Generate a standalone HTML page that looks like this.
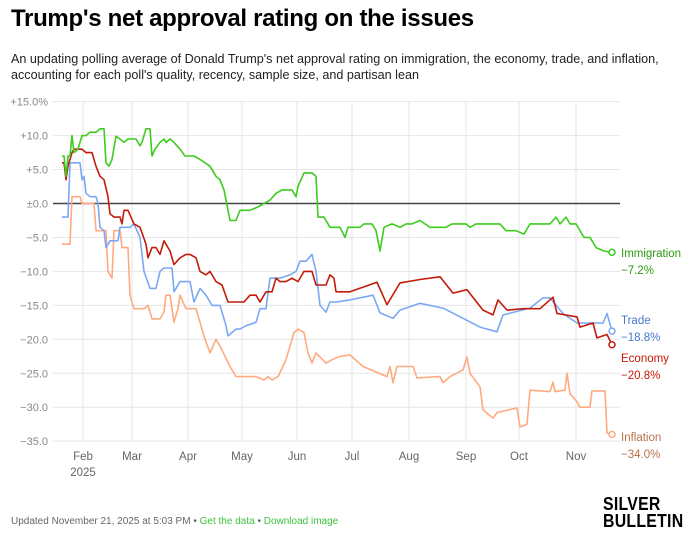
<!DOCTYPE html>
<html><head><meta charset="utf-8"><style>
body{margin:0;width:690px;height:539px;background:#fff;font-family:"Liberation Sans",sans-serif;position:relative;overflow:hidden}
.t{position:absolute;left:11px;top:5px;font-size:24px;font-weight:bold;color:#000;letter-spacing:-0.3px}
.s{position:absolute;left:11px;top:51px;font-size:12.6px;line-height:16px;color:#222;width:680px}
.f{position:absolute;left:11px;top:516px;font-size:10px;color:#666}
.f span{color:#3cc43c}
.logo{position:absolute;left:603px;top:496px;font-size:18px;font-weight:900;line-height:17px;color:#000;letter-spacing:0.3px;transform:scaleX(0.88);transform-origin:left}
</style></head><body>
<div class="t">Trump's net approval rating on the issues</div>
<div class="s">An updating polling average of Donald Trump's net approval rating on immigration, the economy, trade, and inflation, accounting for each poll's quality, recency, sample size, and partisan lean</div>
<svg id="c" width="690" height="539" style="position:absolute;left:0;top:0" font-family="Liberation Sans, sans-serif"></svg>
<div class="f">Updated November 21, 2025 at 5:03 PM • <span>Get the data</span> • <span>Download image</span></div>
<div class="logo">SILVER<br>BULLETIN</div>
<script>
const Y=v=>203.5-6.79*v;
let s='';
for(let v=15;v>=-35;v-=5){const y=Y(v);s+=`<line x1="53" x2="620" y1="${y}" y2="${y}" stroke="#e6e6e6"/>`;
let l=v>0?'+'+v.toFixed(1):v==0?'±0.0':'−'+(-v).toFixed(1);if(v==15)l+='%';
s+=`<text x="48" y="${y+4}" font-size="11" fill="#888" text-anchor="end">${l}</text>`;}
const m=[[83,'Feb'],[132,'Mar'],[188,'Apr'],[242,'May'],[297,'Jun'],[352,'Jul'],[409,'Aug'],[466,'Sep'],[519,'Oct'],[576,'Nov']];
m.forEach(([x,n])=>{s+=`<line x1="${x}" x2="${x}" y1="102" y2="442" stroke="#e6e6e6"/><text x="${x}" y="460" font-size="11.5" fill="#666" text-anchor="middle">${n}</text>`});
s+=`<text x="83" y="476" font-size="11.5" fill="#666" text-anchor="middle">2025</text>`;
s+=`<line x1="53" x2="620" y1="${Y(0)}" y2="${Y(0)}" stroke="#444" stroke-width="1.5"/>`;
const D={
o:[62,-6,70,-6,72,1,80,1,82,0,94,0,96,-4,106,-4,108,-10,112,-11,114,-4,120,-4,122,-6.5,128,-6.5,130,-13.5,134,-15.5,144,-15.5,148,-15,152,-17,160,-17,164,-16,166,-13.5,170,-13.5,174,-17.5,178,-15.5,180,-13.5,186,-15.5,196,-15.5,200,-17.5,205,-20,210,-22,216,-20,220,-21,230,-24,236,-25.5,256,-25.5,264,-26,268,-25.5,272,-26,278,-25.5,286,-23,294,-19,298,-18.5,304,-19,308,-22,312,-23.5,316,-22,326,-23.5,332,-23,340,-22.5,350,-22.3,363,-24,387,-25.5,390,-24,393,-26.4,397,-24,413,-24,417,-25.7,440,-25.5,443,-26.4,450,-25.5,463,-24.5,467,-22.6,470,-25,480,-27,483,-30.4,493,-31.6,497,-30.8,517,-30.1,520,-32.9,527,-32.5,530,-27.5,550,-27.7,553,-26.3,555,-27.7,565,-27.5,567,-25,570,-28,577,-29.2,580,-30,590,-30,592,-27.6,605,-27.6,607,-33.8,612,-34],
b:[62,-2,68,-2,70,6,80,6,82,3.5,84,4,86,1.5,90,1,96,1,98,0,100,-3.5,104,-4,106,-6.5,110,-5.5,118,-5.5,120,-3.5,130,-3.5,134,-3,140,-5,144,-10,150,-12.5,156,-12.5,160,-10,164,-9.5,172,-9.5,174,-13,180,-11.5,190,-11.5,194,-14.5,200,-12.5,206,-13.5,212,-15,220,-15,226,-18,228,-19.5,236,-18.5,240,-18.5,246,-18,256,-17.5,260,-15.5,266,-15.5,270,-11,280,-11,290,-10.5,296,-10,300,-8.5,306,-8.5,312,-7.5,316,-10,320,-15,326,-16,330,-14.5,336,-14.5,350,-14.2,373,-13.5,380,-16.1,393,-16.9,400,-15.7,420,-14.7,443,-15.4,480,-18.2,497,-18.9,503,-16.4,530,-15.4,543,-13.9,550,-13.9,563,-16.2,577,-17.6,603,-17.6,607,-16.2,612,-18.8],
r:[62,6,64,6,66,3.5,68,5.5,72,7.5,74,8,82,8,86,7.5,92,7.5,96,5.5,100,4,104,3.5,108,1,110,-1.5,114,-2,120,-2,122,-3,124,-1,128,-1,134,-3,140,-3.5,146,-6,148,-8,152,-6.5,156,-6.5,160,-7.5,164,-5.5,170,-7,174,-9,180,-8,186,-7.5,190,-7.5,196,-8,200,-10,206,-10.5,210,-10,216,-11.5,222,-12,228,-14.5,244,-14.5,250,-13.5,256,-13.5,260,-14.5,266,-13,272,-13,276,-11,280,-11.5,286,-11.5,292,-11,298,-11.5,304,-10,312,-10,316,-12,326,-12,330,-10.5,334,-11,336,-13,350,-13,377,-11.6,387,-14.9,400,-11.7,420,-11.2,440,-10.8,453,-13.2,467,-12.7,483,-15.7,493,-16.4,498,-14.2,507,-15.7,523,-15.5,540,-15.5,553,-13.8,557,-16.2,577,-16.7,580,-18.2,593,-17.6,597,-19.8,607,-19.3,612,-20.8],
g:[62,7,64,7,66,4,68,7,70,7,72,10,74,7.5,78,8,82,10,86,10,90,10.5,96,10.5,100,11,104,11,106,6,109,5.5,112,6.5,116,9.9,120,9.5,124,9,128,9.5,136,9.5,140,8.5,142,9,146,11,150,11,152,7,155,8,160,9,164,9.5,166,9,170,9.5,174,9,180,8,185,7,194,7,200,6.5,210,5.5,216,4,220,3.5,224,2,228,-1,230,-2.5,236,-2.5,240,-1,250,-1,258,-0.5,264,0,270,0.5,276,1.5,282,2,292,2,296,1,298,2.5,304,4.5,312,4.5,316,4,318,-2,324,-2,330,-3.5,340,-3.5,345,-5,348,-3.5,360,-3.5,364,-3,372,-3,376,-4,380,-7,384,-3.5,392,-3,400,-3.5,406,-3,412,-3,420,-2.5,430,-3.5,446,-3.5,452,-3,466,-3,470,-3.5,476,-3,500,-3,506,-4,516,-4,524,-4.5,530,-3,550,-3,556,-2,560,-3,566,-2,570,-3,576,-3,584,-5,590,-5,596,-6.5,604,-7,612,-7.2]};
const C={o:'#ffaa80',b:'#7aa8f5',r:'#c41a0a',g:'#3ccc1e'};
['o','b','r','g'].forEach(k=>{const a=D[k];let p=[];for(let i=0;i<a.length;i+=2)p.push(a[i]+','+Y(a[i+1]).toFixed(1));
s+=`<polyline points="${p.join(' ')}" fill="none" stroke="${C[k]}" stroke-width="1.6" stroke-linejoin="round"/>`;
s+=`<circle cx="612" cy="${Y(a[a.length-1])}" r="3" fill="#fff" stroke="${C[k]}" stroke-width="1.5"/>`;});
const L=[['Immigration','−7.2%',257,'#2a9a10'],['Trade','−18.8%',324,'#4a78c8'],['Economy','−20.8%',362,'#c41a0a'],['Inflation','−34.0%',441,'#b8704a']];
L.forEach(([n,v,y,c])=>{s+=`<text x="621" y="${y}" font-size="11.5" fill="${c}">${n}</text><text x="621" y="${y+17}" font-size="11.5" fill="${c}">${v}</text>`});
document.getElementById('c').innerHTML=s;
</script>
</body></html>
